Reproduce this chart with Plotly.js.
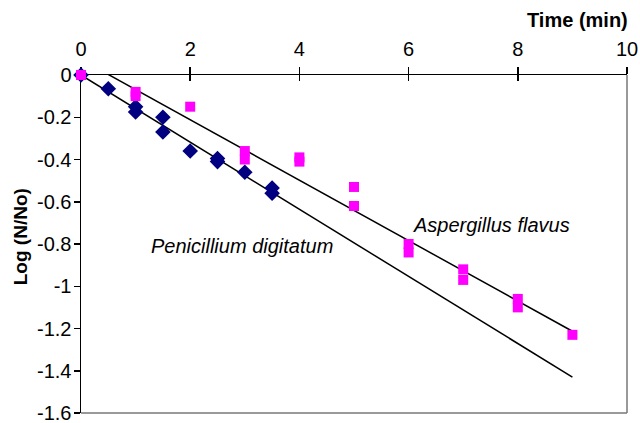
<!DOCTYPE html>
<html>
<head>
<meta charset="utf-8">
<script src="https://cdn.plot.ly/plotly-3.0.1.min.js"></script>
<style>html,body{margin:0;padding:0;background:#fff;}#chart{width:640px;height:423px;}</style>
</head>
<body>
<div id="chart"></div>
<script>
// Penicillium digitatum (navy diamonds)
const penTime = [0, 0.5, 1, 1, 1.5, 1.5, 2, 2.5, 2.5, 3, 3.5, 3.5];
const penLog  = [0, -0.065, -0.15, -0.175, -0.2, -0.27, -0.36, -0.395, -0.41, -0.46, -0.535, -0.56];
// Aspergillus flavus (magenta squares)
const aspTime = [0, 1, 1, 2, 3, 3, 4, 4, 5, 5, 6, 6, 7, 7, 8, 8, 9];
const aspLog  = [0, -0.08, -0.1, -0.15, -0.36, -0.4, -0.39, -0.41, -0.53, -0.62, -0.8, -0.84, -0.92, -0.97, -1.06, -1.1, -1.23];
// Fitted trend lines (endpoints)
const penFitX = [0, 9];
const penFitY = [0, -1.43];
const aspFitX = [0, 9];
const aspFitY = [0.074, -1.213];
const xTicks = [0, 2, 4, 6, 8, 10];
const yTicks = [0, -0.2, -0.4, -0.6, -0.8, -1, -1.2, -1.4, -1.6];
const yTickText = ['0','-0.2','-0.4','-0.6','-0.8','-1','-1.2','-1.4','-1.6'];

const font = 'Liberation Sans, Arial, sans-serif';
const traces = [
  {x: penFitX, y: penFitY, mode: 'lines', line: {color: '#000', width: 1.5}, hoverinfo: 'skip'},
  {x: aspFitX, y: aspFitY, mode: 'lines', line: {color: '#000', width: 1.5}, hoverinfo: 'skip'},
  {x: penTime, y: penLog, mode: 'markers', cliponaxis: false, marker: {symbol: 'diamond', color: '#000080', size: 12}},
  {x: aspTime, y: aspLog, mode: 'markers', cliponaxis: false, marker: {symbol: 'square', color: '#FF00FF', size: 10}}
];
const layout = {
  width: 640, height: 423,
  margin: {l: 81, r: 13, t: 75, b: 10},
  paper_bgcolor: '#fff', plot_bgcolor: '#fff',
  showlegend: false,
  font: {family: font, size: 20, color: '#000'},
  xaxis: {
    side: 'top', range: [0, 10], tickvals: xTicks, ticktext: xTicks.map(String),
    showgrid: false, zeroline: false, showline: true, linecolor: '#000', linewidth: 1.5,
    ticks: 'outside', ticklen: 7, tickwidth: 1.5, tickcolor: '#000', ticklabelstandoff: 3,
    tickfont: {family: font, size: 20}, layer: 'below traces'
  },
  xaxis2: {
    overlaying: 'x', matches: 'x', side: 'top', range: [0, 10], tickvals: xTicks,
    showticklabels: false, showgrid: false, zeroline: false, showline: false,
    ticks: 'inside', ticklen: 6, tickwidth: 1.5, tickcolor: '#000', layer: 'below traces'
  },
  yaxis: {
    range: [-1.6, 0], tickvals: yTicks, ticktext: yTickText,
    showgrid: false, zeroline: false, showline: true, linecolor: '#000', linewidth: 1.5,
    ticks: 'outside', ticklen: 6, tickwidth: 1.5, tickcolor: '#000', ticklabelstandoff: -2,
    ticklabeloverflow: 'allow', layer: 'below traces',
    tickfont: {family: font, size: 20}
  },
  shapes: [
    {type: 'line', xref: 'paper', yref: 'paper', x0: 1, x1: 1, y0: 0, y1: 1, line: {color: '#777', width: 1.5}},
    {type: 'line', xref: 'paper', yref: 'paper', x0: 0, x1: 1, y0: 0, y1: 0, line: {color: '#777', width: 1.5}}
  ],
  annotations: [
    {text: '<b>Time (min)</b>', xref: 'paper', yref: 'paper', x: 1.0055, y: 1, yshift: 55, xanchor: 'right', yanchor: 'middle', showarrow: false, font: {family: font, size: 20}},
    {text: '<b>Log (N/No)</b>', xref: 'paper', yref: 'paper', x: 0, y: 0.52, xshift: -61, xanchor: 'center', yanchor: 'middle', textangle: -90, showarrow: false, font: {family: font, size: 19}},
    {text: '<i>Aspergillus flavus</i>', x: 7.51, y: -0.711, showarrow: false, font: {family: font, size: 20}},
    {text: '<i>Penicillium digitatum</i>', x: 2.94, y: -0.81, showarrow: false, font: {family: font, size: 20}}
  ]
};
// invisible trace to activate xaxis2 (provides the inner half of the crossing tick marks)
traces.push({x: [0], y: [0], xaxis: 'x2', mode: 'markers', marker: {opacity: 0}, hoverinfo: 'skip'});
Plotly.newPlot('chart', traces, layout, {displayModeBar: false, staticPlot: true});
</script>
</body>
</html>
